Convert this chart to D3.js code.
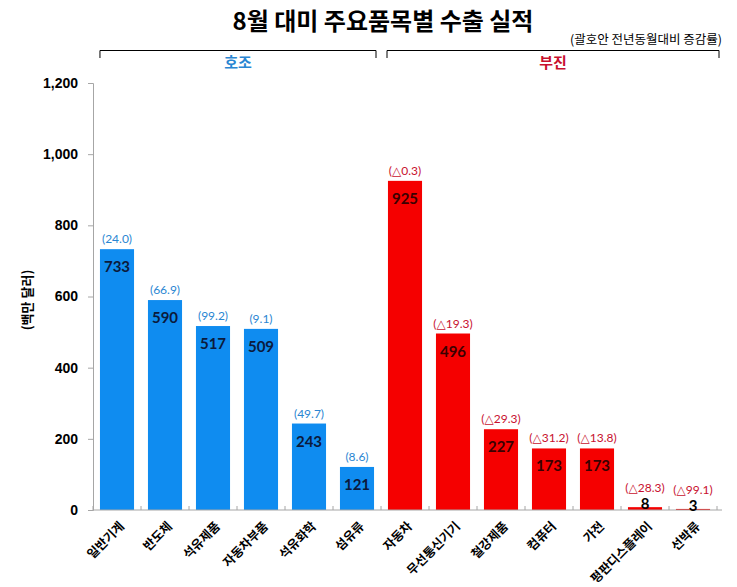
<!DOCTYPE html>
<html>
<head>
<meta charset="utf-8">
<script src="https://cdn.jsdelivr.net/npm/d3@7"></script>
<style>
  body { margin: 0; background: #fff; }
  svg { font-family: Lato, "Noto Sans CJK KR", sans-serif; }
</style>
</head>
<body>
<svg width="737" height="587"></svg>
<script>
// 품목
const categories = ['일반기계', '반도체', '석유제품', '자동차부품', '석유화학', '섬유류',
                    '자동차', '무선통신기기', '철강제품', '컴퓨터', '가전', '평판디스플레이', '선박류'];
// 수출액 (백만 달러)
const values = [733, 590, 517, 509, 243, 121, 925, 496, 227, 173, 173, 8, 3];
// 전년동월대비 증감률 (%)
const changes = [24.0, 66.9, 99.2, 9.1, 49.7, 8.6, -0.3, -19.3, -29.3, -31.2, -13.8, -28.3, -99.1];
// 그룹
const groups = ['호조', '부진'];
const yTicks = [0, 200, 400, 600, 800, 1000, 1200];

const data = categories.map((c, i) => ({ name: c, value: values[i], change: changes[i] }));

const svg = d3.select('svg');
const margin = { top: 83, left: 93, right: 20, bottom: 77 };
const plotW = 624;
const height = 587 - margin.top - margin.bottom;

const blue = '#0F8CF0', red = '#F50000';
const blueText = '#2A86D2', redText = '#C8102E';

const x = d3.scaleBand()
    .domain(categories)
    .range([0, plotW])
    .paddingInner(0.29)
    .paddingOuter(0.145);

const y = d3.scaleLinear()
    .domain([0, 1200])
    .range([height, 0]);

const g = svg.append('g').attr('transform', `translate(${margin.left},${margin.top})`);

// 제목
svg.append('text')
    .attr('x', 383).attr('y', 30)
    .attr('text-anchor', 'middle')
    .style('font-family', '"Noto Sans CJK KR"')
    .style('font-size', '24px').style('font-weight', 'bold')
    .text('8월 대미 주요품목별 수출 실적');

svg.append('text')
    .attr('x', 722).attr('y', 44)
    .attr('text-anchor', 'end')
    .style('font-family', '"Noto Sans CJK KR"')
    .style('font-size', '12.5px')
    .text('(괄호안 전년동월대비 증감률)');

// 호조 / 부진 괄호
const isGood = d => d.change >= 0;
const groupSpans = groups.map((name, gi) => {
    const items = data.filter(d => (gi === 0) === isGood(d));
    const x0 = x(items[0].name) - x.step() * x.paddingInner() / 2;
    const x1 = x(items[items.length - 1].name) + x.bandwidth() + x.step() * x.paddingInner() / 2;
    return { name, x0, x1, color: gi === 0 ? blueText : redText };
});
groupSpans[0].x0 = x(categories[0]);  // 왼쪽 끝은 첫 막대 기준
groupSpans[1].x0 += 6;
groupSpans[1].x1 += 2;
groupSpans[0].x1 -= 5;

const br = svg.append('g').attr('transform', `translate(${margin.left},0)`);
br.selectAll('path.bracket')
    .data(groupSpans)
    .enter().append('path')
    .attr('fill', 'none')
    .attr('stroke', '#000')
    .attr('stroke-width', 1)
    .attr('d', d => `M${d.x0},58V50.5H${d.x1}V58`);
br.selectAll('text.group')
    .data(groupSpans)
    .enter().append('text')
    .attr('x', d => (d.x0 + d.x1) / 2)
    .attr('y', 68)
    .attr('text-anchor', 'middle')
    .attr('fill', d => d.color)
    .style('font-family', '"Noto Sans CJK KR"')
    .style('font-size', '15px').style('font-weight', 'bold')
    .text(d => d.name);

// y축
const yAxis = g.append('g')
    .call(d3.axisLeft(y).tickValues(yTicks).tickSize(5).tickFormat(d3.format(',')))
    .call(a => a.select('.domain').attr('stroke', '#a6a6a6'));
yAxis.selectAll('.tick line').attr('stroke', '#a6a6a6');
yAxis.selectAll('.tick text')
    .attr('x', -15)
    .attr('fill', '#000')
    .style('font-size', '14px').style('font-weight', 'bold');

svg.append('text')
    .attr('transform', 'translate(32,300) rotate(-90)')
    .attr('text-anchor', 'middle')
    .style('font-family', '"Noto Sans CJK KR"')
    .style('font-size', '13px').style('font-weight', 'bold')
    .text('(백만 달러)');

// 막대
g.selectAll('.bar')
    .data(data)
    .enter().append('rect')
    .attr('class', 'bar')
    .attr('x', d => x(d.name))
    .attr('y', d => y(d.value))
    .attr('width', x.bandwidth())
    .attr('height', d => height - y(d.value))
    .attr('fill', d => isGood(d) ? blue : red);

// x축
g.append('line')
    .attr('x1', 0).attr('x2', plotW + 5)
    .attr('y1', height).attr('y2', height)
    .attr('stroke', '#a6a6a6');
g.selectAll('.xtick')
    .data(d3.range(categories.length + 1))
    .enter().append('line')
    .attr('x1', i => i * x.step()).attr('x2', i => i * x.step())
    .attr('y1', height).attr('y2', height - 4)
    .attr('stroke', '#a6a6a6');

g.selectAll('.cat')
    .data(data)
    .enter().append('text')
    .attr('text-anchor', 'end')
    .attr('transform', d => `translate(${x(d.name) + x.bandwidth() / 2 + 8},${height + 17}) rotate(-45)`)
    .style('font-family', '"Noto Sans CJK KR"')
    .style('font-size', '12.5px').style('font-weight', 'bold')
    .text(d => d.name);

// 값 라벨
const small = d => height - y(d.value) < 20;
const valueY = d => small(d) ? y(d.value) + 2 : y(d.value) + 23;
g.selectAll('.val')
    .data(data)
    .enter().append('text')
    .attr('x', d => x(d.name) + x.bandwidth() / 2)
    .attr('y', valueY)
    .attr('text-anchor', 'middle')
    .attr('fill', d => small(d) ? '#000' : (isGood(d) ? '#0B1A3C' : '#3A0000'))
    .style('font-size', '15px').style('font-weight', 'bold')
    .text(d => d.value);

// 증감률 라벨
const fmtChange = d => d.change < 0 ? `(△${Math.abs(d.change).toFixed(1)})` : `(${d.change.toFixed(1)})`;
g.selectAll('.chg')
    .data(data)
    .enter().append('text')
    .attr('x', d => x(d.name) + x.bandwidth() / 2)
    .attr('y', d => small(d) ? valueY(d) - 17 : y(d.value) - 6)
    .attr('text-anchor', 'middle')
    .attr('fill', d => isGood(d) ? blueText : redText)
    .style('font-family', 'Lato, "DejaVu Sans", sans-serif')
    .style('font-size', '12px')
    .text(fmtChange);
</script>
</body>
</html>
